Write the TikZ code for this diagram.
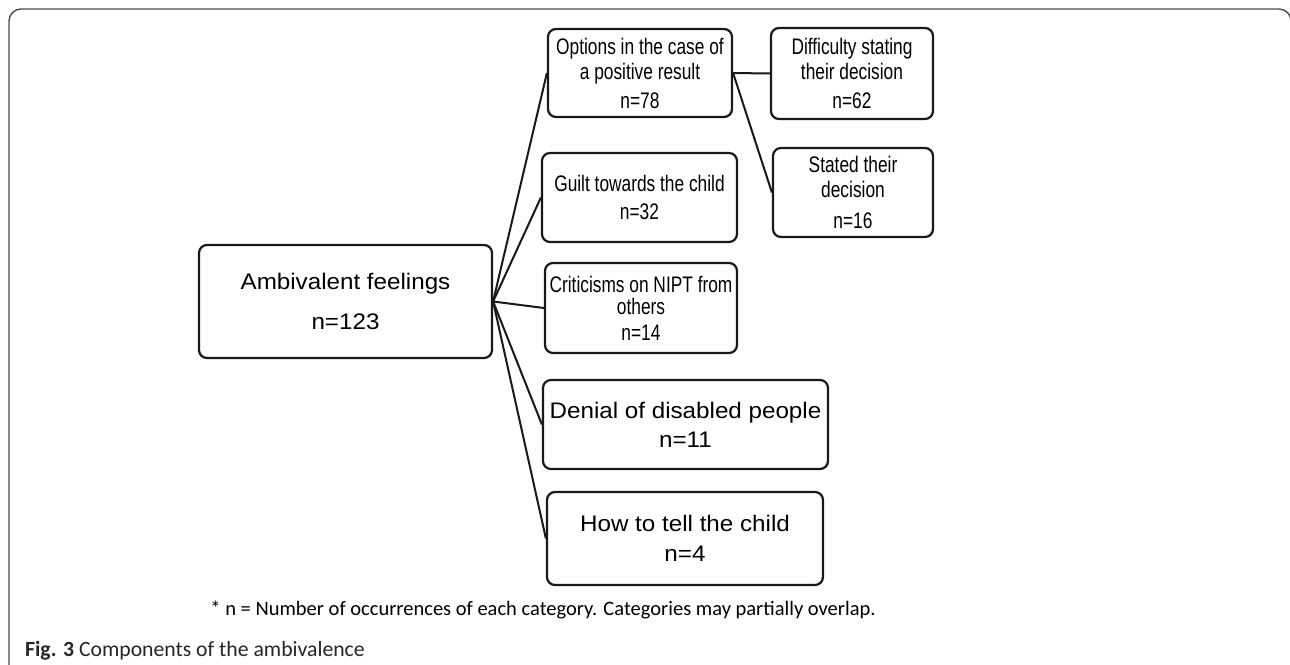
\documentclass[tikz,border=0pt]{standalone}
\usepackage{fontspec}
\setmainfont{Liberation Sans}
\newfontfamily\narrowfont[FakeStretch=0.77]{Liberation Sans}
\newfontfamily\widefont[FakeStretch=1.075]{Liberation Sans}
\newfontfamily\notefont{Carlito}
\begin{document}
\begin{tikzpicture}[x=1pt,y=-1pt,
  box/.style={draw=black!90, line width=2.2pt, rounded corners=8pt, inner sep=0pt, align=center, text=black},
  nbox/.style={box, font=\narrowfont\fontsize{22.5}{25}\selectfont},
  wbox/.style={box, font=\widefont\fontsize{22.5}{25}\selectfont},
  link/.style={line width=2pt, draw=black!90},
  frame/.style={line width=1.4pt, draw=black!70, rounded corners=12pt}]
\useasboundingbox (0,0) rectangle (1290,664);
\fill[white] (0,0) rectangle (1290,664);
\draw[frame] (9,680) -- (9,9) -- (1291,9) -- (1291,80);

\node[wbox, minimum width=293pt, minimum height=113pt] (amb) at (345.5,301.5) {Ambivalent feelings\\[15pt]n=123};

\node[nbox, minimum width=184pt, minimum height=88pt] (opt) at (640,73) {Options in the case of\\a positive result\\[4pt]n=78};
\node[nbox, minimum width=162pt, minimum height=91pt] (dif) at (852,73.5) {Difficulty stating\\their decision\\[4pt]n=62};
\node[nbox, minimum width=160pt, minimum height=89pt] (sta) at (853,192.5) {Stated their\\decision\\[6pt]n=16};
\node[nbox, minimum width=195pt, minimum height=89pt] (gui) at (639.5,197.5) {Guilt towards the child\\[3pt]n=32};
\node[nbox, minimum width=192pt, minimum height=90pt] (cri) at (641,308) {Criticisms on NIPT from\\[-3pt]others\\[1pt]n=14};
\node[wbox, minimum width=285pt, minimum height=89pt] (den) at (685.5,424.5) {Denial of disabled people\\[4pt]n=11};
\node[wbox, minimum width=276pt, minimum height=93pt] (how) at (685,538.5) {How to tell the child\\[5pt]n=4};

\foreach \t in {opt,gui,cri,den,how} \draw[link] (amb.east) -- (\t.west);
\draw[link] (opt.east) -- (dif.west);
\draw[link] (opt.east) -- (sta.west);

\node[font=\notefont\fontsize{20.5}{22}\selectfont, inner sep=0pt] (note) at (543,610) {* n = Number of occurrences of each category. Categories may partially overlap.};
\node[font=\notefont\fontsize{21.7}{24}\selectfont, text=black!85, anchor=west, inner sep=0pt] (cap) at (25,651) {\textbf{Fig. 3} Components of the ambivalence};
\end{tikzpicture}
\end{document}
